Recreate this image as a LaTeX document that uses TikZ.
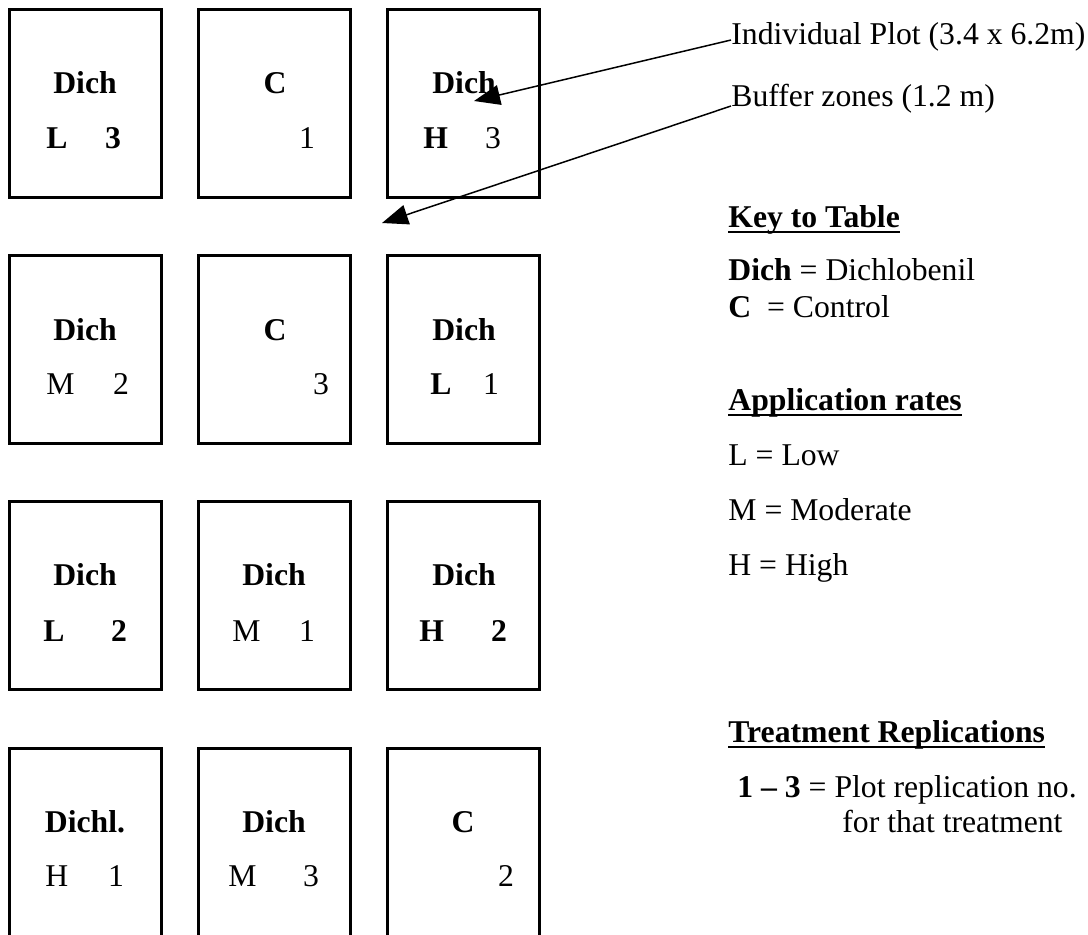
\documentclass[tikz,border=0pt]{standalone}
\usepackage{fontspec}
\setmainfont{Liberation Serif}
\usetikzlibrary{arrows.meta}
\begin{document}
\begin{tikzpicture}[x=0.5pt,y=-0.5pt,
  font=\fontsize{15.85pt}{19pt}\selectfont,
  plot/.style={draw, line width=1.5pt, minimum width=76pt, minimum height=94pt, inner sep=0pt},
  mid/.style={inner sep=0pt, anchor=base},
  lft/.style={inner sep=0pt, anchor=base west},
  uline/.style={line width=1.35pt},
  pointer/.style={line width=0.75pt, -{Triangle[length=13pt,width=10pt]}}
]
\useasboundingbox (0,0) rectangle (1088,934);

% ---- field plots (3 columns x 4 rows) ----
\node[plot] (p11) at (85,103) {};
\node[plot] (p12) at (274,103) {};
\node[plot] (p13) at (463,103) {};
\node[plot] (p21) at (85,349) {};
\node[plot] (p22) at (274,349) {};
\node[plot] (p23) at (463,349) {};
\node[plot] (p31) at (85,595) {};
\node[plot] (p32) at (274,595) {};
\node[plot] (p33) at (463,595) {};
\node[plot] (p41) at (85,842) {};
\node[plot] (p42) at (274,842) {};
\node[plot] (p43) at (463,842) {};

% row 1
\node[mid] (t11) at (85,93) {\bfseries Dich};
\node[lft] (r11) at (46,148) {\bfseries L};
\node[mid] (n11) at (113,148) {\bfseries 3};
\node[mid] (t12) at (275,93) {\bfseries C};
\node[mid] (n12) at (307,148) {1};
\node[mid] (t13) at (464,93) {\bfseries Dich};
\node[lft] (r13) at (423,148) {\bfseries H};
\node[mid] (n13) at (493,148) {3};

% row 2
\node[mid] (t21) at (85,340) {\bfseries Dich};
\node[lft] (r21) at (46,394) {M};
\node[mid] (n21) at (121,394) {2};
\node[mid] (t22) at (275,340) {\bfseries C};
\node[mid] (n22) at (321,394) {3};
\node[mid] (t23) at (464,340) {\bfseries Dich};
\node[lft] (r23) at (430,394) {\bfseries L};
\node[mid] (n23) at (491,394) {1};

% row 3
\node[mid] (t31) at (85,585) {\bfseries Dich};
\node[lft] (r31) at (43,641) {\bfseries L};
\node[mid] (n31) at (119,641) {\bfseries 2};
\node[mid] (t32) at (274,585) {\bfseries Dich};
\node[lft] (r32) at (232,641) {M};
\node[mid] (n32) at (307,641) {1};
\node[mid] (t33) at (464,585) {\bfseries Dich};
\node[lft] (r33) at (419,641) {\bfseries H};
\node[mid] (n33) at (499,641) {\bfseries 2};

% row 4
\node[mid] (t41) at (85,832) {\bfseries Dichl.};
\node[lft] (r41) at (45,886) {H};
\node[mid] (n41) at (116,886) {1};
\node[mid] (t42) at (274,832) {\bfseries Dich};
\node[lft] (r42) at (228,886) {M};
\node[mid] (n42) at (311,886) {3};
\node[mid] (t43) at (463,832) {\bfseries C};
\node[mid] (n43) at (506,886) {2};

% ---- callouts ----
\node[lft] (ind) at (731,44) {Individual Plot (3.4 x 6.2m)};
\node[lft] (buf) at (731,106) {Buffer zones (1.2 m)};
\coordinate (indtip) at (474,101);
\coordinate (buftip) at (382,223);
\draw[pointer] ([yshift=2pt]ind.base west) -- (indtip);
\draw[pointer] (buf.base west) -- (buftip);

% ---- legend ----
\node[lft] (key) at (728,227) {\bfseries Key to Table};
\draw[uline] ([yshift=-2.5pt]key.base west) -- ([yshift=-2.5pt]key.base east);
\node[lft] (kd) at (728,280) {\textbf{Dich} = Dichlobenil};
\node[lft] (kc) at (728,317) {\textbf{C}\ \ = Control};

\node[lft] (app) at (728,410) {\bfseries Application rates};
\draw[uline] ([yshift=-2.5pt]app.base west) -- ([yshift=-2.5pt]app.base east);
\node[lft] (al) at (728,465) {L = Low};
\node[lft] (am) at (728,520) {M = Moderate};
\node[lft] (ah) at (728,575) {H = High};

\node[lft] (trt) at (728,742) {\bfseries Treatment Replications};
\draw[uline] ([yshift=-2.5pt]trt.base west) -- ([yshift=-2.5pt]trt.base east);
\node[lft] (rep) at (737,797) {\textbf{1 -- 3} = Plot replication no.};
\node[lft] (rep2) at (842,832) {for that treatment};
\end{tikzpicture}
\end{document}
